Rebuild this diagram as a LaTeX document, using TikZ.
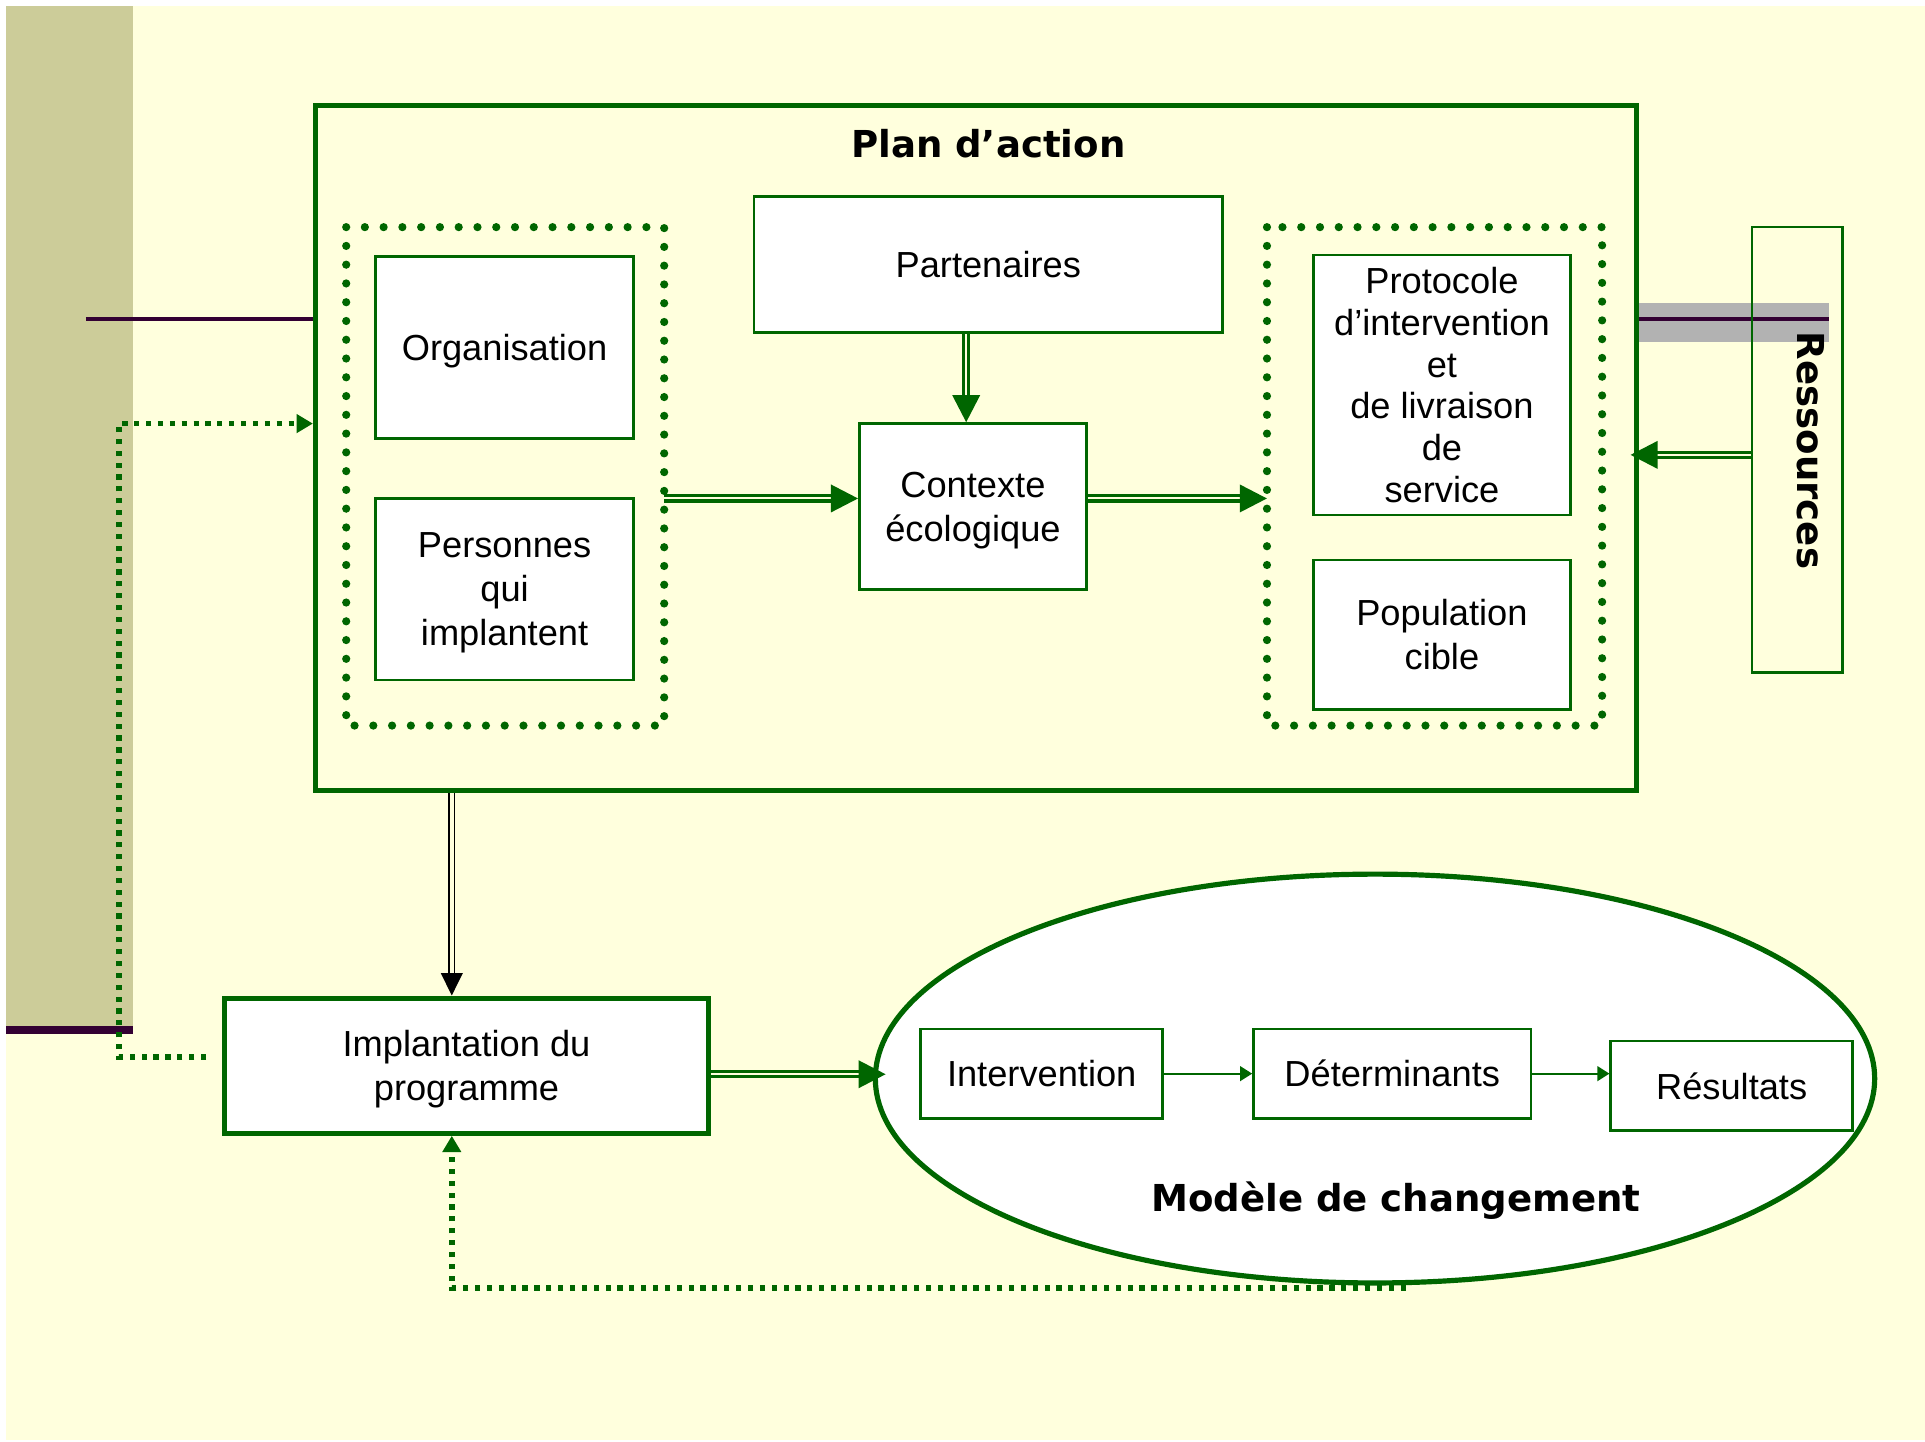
\documentclass[tikz,border=0pt]{standalone}
\usepackage{fontspec}
\setmainfont{Liberation Sans}
\newfontfamily\headfont{DejaVu Sans}
\usepackage{tikz}
\usetikzlibrary{calc,arrows.meta,shapes.geometric}
\definecolor{dkgreen}{HTML}{006600}
\definecolor{cream}{HTML}{FFFFDD}
\definecolor{khaki}{HTML}{CCCC99}
\definecolor{plum}{HTML}{330033}
\definecolor{band}{HTML}{B2B2B2}
\newcommand\regtext{\fontsize{8.4}{10.2}\selectfont}
\newcommand\headtext{\headfont\bfseries\fontsize{8.6}{10}\selectfont}
\def\boxnode{\node[draw=dkgreen,fill=white,line width=0.6pt,align=center,text depth=0pt]}
\def\drawdots{\draw[color=dkgreen, line width=1.9pt, line cap=round, dash pattern=on 0pt off 4.35pt]}
\def\drawfeed{\draw[color=dkgreen, line width=1.3pt, dash pattern=on 1.2pt off 1.55pt, -{Triangle[length=3.8pt,width=4.2pt]}]}
\def\drawflow{\draw[color=dkgreen, line width=0.75pt, double=cream, double distance=0.45pt, -{Triangle[length=6.3pt,width=6.3pt]}]}

\begin{document}
\begin{tikzpicture}[auto,inner sep=1mm,font=\regtext]
\useasboundingbox (0,0) rectangle (15.68,-11.74);
% page, side strip and its rules
\fill[cream] (0.05,-0.05) rectangle (15.68,-11.73);
\fill[khaki] (0.05,-0.05) rectangle (1.08,-8.36);
\fill[plum] (0.05,-8.36) rectangle (1.08,-8.42);
\draw[plum, line width=0.9pt] (0.70,-2.60) -- (2.57,-2.60);
\fill[band] (13.35,-2.47) rectangle (14.90,-2.785); % grey band behind Ressources
\draw[plum, line width=0.8pt] (13.35,-2.60) -- (14.90,-2.60);

% ---------- Plan d'action
\node[draw=dkgreen, line width=1.2pt, minimum width=10.76cm, minimum height=5.58cm] (plan) at (7.95,-3.65) {};
\node[font=\headtext] (plantitle) at (8.05,-1.17) {Plan d’action};

% left group
\drawdots (2.82,-1.85) rectangle (5.41,-5.91);
\coordinate (grpl) at (5.41,-4.06);
\boxnode[minimum width=2.10cm, minimum height=1.48cm] (org) at (4.11,-2.83) {Organisation};
\boxnode[minimum width=2.10cm, minimum height=1.48cm] (pers) at (4.11,-4.80) {Personnes\\qui\\implantent};

% middle
\boxnode[minimum width=3.82cm, minimum height=1.11cm] (part) at (8.05,-2.155) {Partenaires};
\boxnode[minimum width=1.85cm, minimum height=1.35cm] (ctx) at (7.925,-4.125) {Contexte\\écologique};

% right group
\drawdots (10.32,-1.85) rectangle (13.05,-5.91);
\coordinate (grpr) at (10.32,-4.06);
\boxnode[minimum width=2.09cm, minimum height=2.09cm, font=\fontsize{8.4}{9.7}\selectfont] (proto) at (11.745,-3.135)
  {Protocole\\d’intervention\\et\\de livraison\\de\\service};
\boxnode[minimum width=2.09cm, minimum height=1.22cm] (pop) at (11.745,-5.17) {Population\\cible};

% Ressources on the right
\node[draw=dkgreen, line width=0.6pt, minimum width=0.74cm, minimum height=3.63cm] (res) at (14.64,-3.665) {};
\node[rotate=-90, font=\headtext] (restxt) at (14.75,-3.67) {Ressources};

% flows inside the plan
\coordinate (pc) at (7.87,0);
\drawflow (part.south -| pc) -- (ctx.north -| pc);
\drawflow (grpl) -- (grpl -| ctx.west);
\drawflow (grpl -| ctx.east) -- (grpr);
\coordinate (resin) at ($ (res.west) + (0,-0.04) $);
\drawflow[shorten >=-2pt] (resin) -- (resin -| plan.east);

% ---------- Implantation and change model
\boxnode[line width=1.2pt, minimum width=3.94cm, minimum height=1.10cm] (impl) at (3.80,-8.68) {Implantation du\\programme};
\coordinate (dn) at (3.68,0);
\draw[line width=0.45pt, double=cream, double distance=0.8pt, -{Triangle[length=5.2pt,width=5pt]}] (plan.south -| dn) -- (impl.north -| dn);

\node[ellipse, draw=dkgreen, fill=white, line width=1.2pt, minimum width=8.14cm, minimum height=3.33cm, inner sep=0] (chg) at (11.20,-8.785) {};
\drawflow[shorten >=-3pt] (impl.east |- 0,-8.75) -- (chg.west |- 0,-8.75);
\boxnode[minimum width=1.97cm, minimum height=0.73cm] (inter) at (8.485,-8.745) {Intervention};
\boxnode[minimum width=2.26cm, minimum height=0.73cm] (det) at (11.34,-8.745) {Déterminants};
\boxnode[minimum width=1.97cm, minimum height=0.73cm] (resu) at (14.105,-8.845) {Résultats};
\draw[dkgreen, line width=0.5pt, -{Triangle[length=2.8pt,width=3.4pt]}] (inter) -- (det);
\draw[dkgreen, line width=0.5pt, -{Triangle[length=2.8pt,width=3.4pt]}] (det.east) -- (det.east -| resu.west);
\node[font=\headtext] (chglabel) at (11.37,-9.78) {Modèle de changement};

% feedback loops
\drawfeed ($ (chg.south) + (0.25,-0.02) $) -| (impl.south -| dn);
\coordinate (loop) at (0.97,-3.45);
\drawfeed ($ (impl.west) + (-0.13,0.07) $) -| (loop) -- (loop -| plan.west);
\end{tikzpicture}
\end{document}
